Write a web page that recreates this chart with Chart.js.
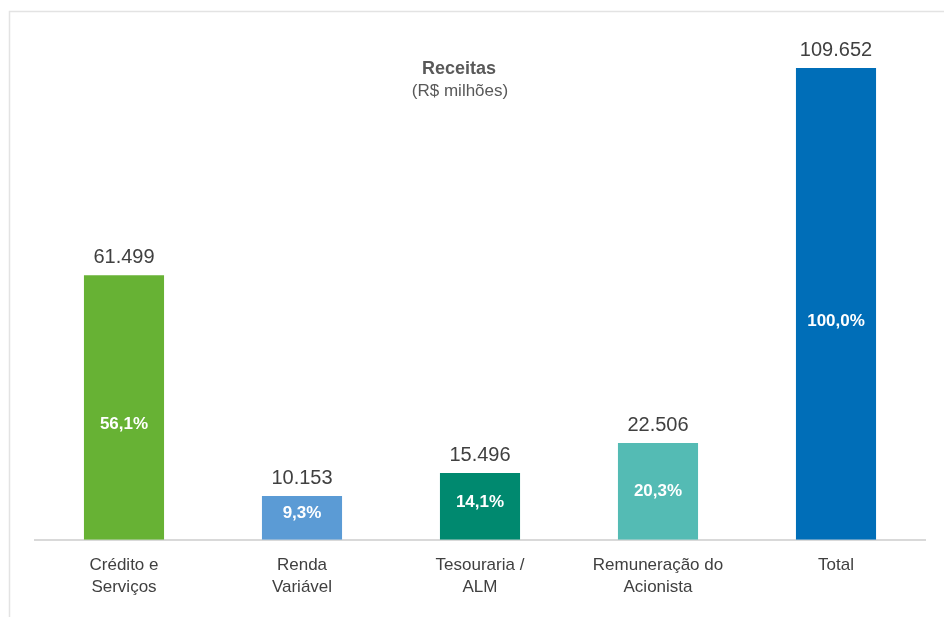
<!DOCTYPE html>
<html>
<head>
<meta charset="utf-8">
<script src="https://cdn.jsdelivr.net/npm/chart.js@4.4.1/dist/chart.umd.min.js"></script>
<style>
  html, body { margin: 0; padding: 0; background: #ffffff; }
  #wrap { width: 944px; height: 617px; position: relative; }
</style>
</head>
<body>
<div id="wrap"><canvas id="c" width="944" height="617"></canvas></div>
<script>
const categories = [["Crédito e", "Serviços"], ["Renda", "Variável"], ["Tesouraria /", "ALM"], ["Remuneração do", "Acionista"], ["Total"]];
const values = [61499, 10153, 15496, 22506, 109652];
const shareLabels = ["56,1%", "9,3%", "14,1%", "20,3%", "100,0%"];
const barColors = ["#67B234", "#5B9BD5", "#00896F", "#54BBB4", "#006EB8"];
const titleText = "Receitas";
const subtitleText = "(R$ milhões)";

const FONT = "'Liberation Sans', Arial, sans-serif";

function fmt(v) {
  return v.toString().replace(/\B(?=(\d{3})+(?!\d))/g, ".");
}

const framePlugin = {
  id: 'frame',
  beforeDraw(chart) {
    const ctx = chart.ctx;
    ctx.save();
    ctx.fillStyle = '#ffffff';
    ctx.fillRect(0, 0, chart.width, chart.height);
    ctx.strokeStyle = '#e3e3e3';
    ctx.lineWidth = 1.5;
    ctx.beginPath();
    ctx.moveTo(9.5, chart.height + 5);
    ctx.lineTo(9.5, 11.5);
    ctx.lineTo(chart.width + 5, 11.5);
    ctx.stroke();
    ctx.restore();
  }
};

const labelPlugin = {
  id: 'labels',
  afterDatasetsDraw(chart) {
    const ctx = chart.ctx;
    const meta = chart.getDatasetMeta(0);
    ctx.save();
    ctx.textAlign = 'center';
    ctx.fillStyle = '#595959';
    ctx.font = "bold 18px " + FONT;
    ctx.textBaseline = 'middle';
    ctx.fillText(titleText, 459, 69);
    ctx.font = "17px " + FONT;
    ctx.fillText(subtitleText, 460, 91);
    meta.data.forEach((bar, i) => {
      const top = bar.y, bottom = bar.base, h = bottom - top;
      ctx.fillStyle = '#404040';
      ctx.font = "20px " + FONT;
      ctx.textBaseline = 'alphabetic';
      ctx.fillText(fmt(values[i]), bar.x, top - 12);
      ctx.fillStyle = '#ffffff';
      ctx.font = "bold 17px " + FONT;
      ctx.textBaseline = 'middle';
      const shift = Math.min(17, Math.max(-5, (h - 100) * 0.12));
      ctx.fillText(shareLabels[i], bar.x, top + h / 2 + shift);
    });
    ctx.restore();
  }
};

new Chart(document.getElementById('c'), {
  type: 'bar',
  data: {
    labels: categories,
    datasets: [{
      data: values,
      backgroundColor: barColors,
      borderWidth: 0,
      categoryPercentage: 1.0,
      barPercentage: 0.45
    }]
  },
  options: {
    responsive: false,
    animation: false,
    devicePixelRatio: 1,
    layout: { padding: { left: 35, right: 19, top: 20, bottom: 5 } },
    plugins: {
      legend: { display: false },
      title: { display: false },
      tooltip: { enabled: false }
    },
    scales: {
      x: {
        grid: { display: false, drawTicks: false },
        border: { display: true, color: '#d9d9d9', width: 2 },
        ticks: {
          color: '#404040',
          font: { family: FONT, size: 17, lineHeight: 1.3 },
          padding: 14,
          maxRotation: 0,
          autoSkip: false
        }
      },
      y: {
        display: false,
        min: 0,
        max: 120800
      }
    }
  },
  plugins: [framePlugin, labelPlugin]
});
</script>
</body>
</html>
